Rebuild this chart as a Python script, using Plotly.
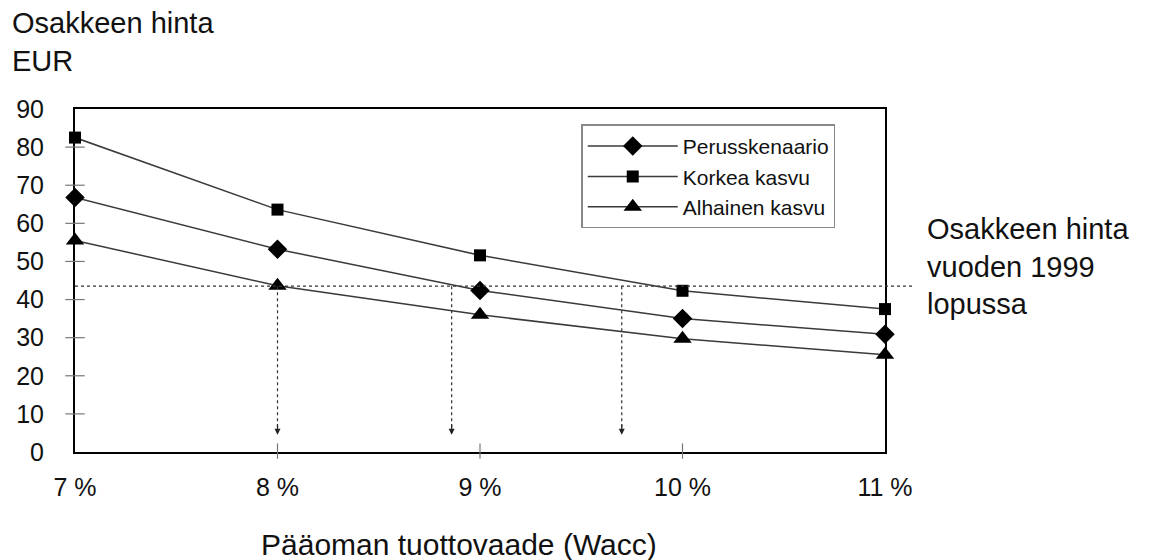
import plotly.graph_objects as go

# ---- data ----
wacc = [7, 8, 9, 10, 11]
wacc_labels = ["7 %", "8 %", "9 %", "10 %", "11 %"]
perus = [66.8, 53.2, 42.4, 35.0, 30.9]
korkea = [82.5, 63.6, 51.6, 42.3, 37.5]
alhainen = [55.5, 43.6, 36.0, 29.7, 25.5]
price_1999 = 43.5
crossing_wacc = [8.0, 8.86, 9.70]
y_ticks = [0, 10, 20, 30, 40, 50, 60, 70, 80, 90]

FONT = "Liberation Sans, Arial, sans-serif"
LINE = "#3a3a3a"

fig = go.Figure()

series = [
    ("Perusskenaario", perus, "diamond", 15),
    ("Korkea kasvu", korkea, "square", 12),
    ("Alhainen kasvu", alhainen, "triangle-up", 16),
]
for name, vals, sym, size in series:
    fig.add_trace(go.Scatter(
        x=wacc, y=vals, name=name, mode="lines+markers", legendgroup=name,
        line=dict(color=LINE, width=1.5),
        marker=dict(symbol=sym, size=size, color="black"),
        cliponaxis=False,
    ))

shapes = []
# horizontal dotted line of 1999 share price, extending beyond plot
shapes.append(dict(type="line", xref="x domain", yref="y", x0=0, x1=1.037,
                   y0=price_1999, y1=price_1999,
                   line=dict(color="#333", width=1.2, dash="dot")))
# vertical dotted lines
for cx in crossing_wacc:
    shapes.append(dict(type="line", xref="x", yref="y", x0=cx, x1=cx,
                       y0=price_1999, y1=5.5,
                       line=dict(color="#333", width=1.2, dash="dot")))
# cross ticks on y axis
for v in y_ticks[1:-1]:
    shapes.append(dict(type="line", xref="x domain", yref="y", x0=-0.012, x1=0.012,
                       y0=v, y1=v, line=dict(color="#777", width=1.2)))
# cross ticks on x axis
for v in wacc[1:-1]:
    shapes.append(dict(type="line", xref="x", yref="y domain", x0=v, x1=v,
                       y0=-0.02, y1=0.025, line=dict(color="#777", width=1.2)))

annotations = []
for cx in crossing_wacc:
    annotations.append(dict(x=cx, y=4.5, xref="x", yref="y", text="", showarrow=True,
                            ax=0, ay=-12, arrowhead=2, arrowsize=1.0, arrowwidth=1.2,
                            arrowcolor="#222"))
annotations.append(dict(x=0.0, y=1.0, xref="paper", yref="paper", xanchor="left", yanchor="top",
                        text="Osakkeen hinta<br>EUR", showarrow=False, align="left",
                        font=dict(family=FONT, size=29, color="#111"), xshift=-65, yshift=104))
annotations.append(dict(x=1.0, y=price_1999, xref="paper", yref="y", xanchor="left", yanchor="middle",
                        text="Osakkeen hinta<br>vuoden 1999<br>lopussa", showarrow=False, align="left",
                        font=dict(family=FONT, size=29, color="#111"), xshift=40, yshift=20))
# x-axis title
annotations.append(dict(x=0.474, y=0, xref="paper", yref="paper", xanchor="center", yanchor="middle",
                        text="Pääoman tuottovaade (Wacc)", showarrow=False,
                        font=dict(family=FONT, size=30, color="#111"), yshift=-92))

fig.update_layout(
    width=1150, height=560,
    margin=dict(l=75, r=265, t=109, b=108),
    paper_bgcolor="white", plot_bgcolor="white",
    font=dict(family=FONT, color="#111"),
    showlegend=True,
    legend=dict(x=0.625, y=0.955, xanchor="left", yanchor="top",
                bordercolor="#888", borderwidth=1.5, bgcolor="white",
                font=dict(family=FONT, size=21, color="#111"),
                itemwidth=90, tracegroupgap=0, traceorder="grouped"),
    shapes=shapes,
    annotations=annotations,
    xaxis=dict(range=[7, 11], tickvals=wacc, ticktext=wacc_labels,
               showgrid=False, zeroline=False, showline=True, linecolor="black",
               linewidth=2, mirror=True, ticks="",
               tickfont=dict(family=FONT, size=25, color="#111"),
               ticklabelstandoff=12),
    yaxis=dict(range=[0, 90], tickvals=y_ticks,
               showgrid=False, zeroline=False, showline=True, linecolor="black",
               linewidth=2, mirror=True, ticks="",
               tickfont=dict(family=FONT, size=25, color="#111"),
               ticklabelstandoff=24),
)

fig.write_html("out.html")
